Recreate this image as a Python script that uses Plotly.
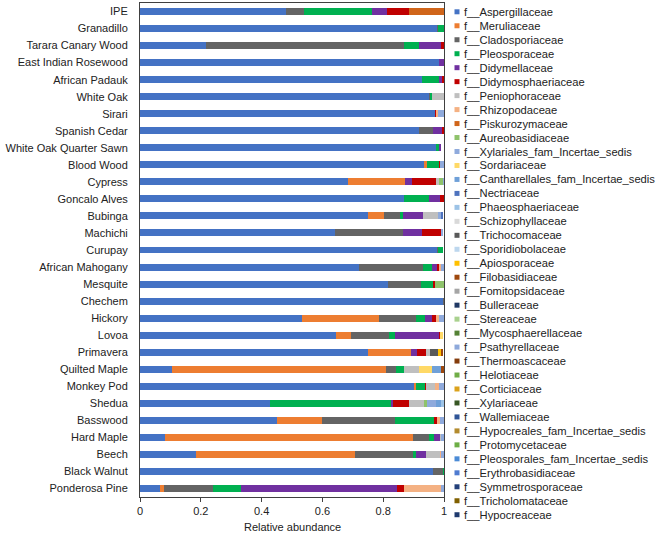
import plotly.graph_objects as go

woods = ["IPE", "Granadillo", "Tarara Canary Wood", "East Indian Rosewood", "African Padauk",
         "White Oak", "Sirari", "Spanish Cedar", "White Oak Quarter Sawn", "Blood Wood",
         "Cypress", "Goncalo Alves", "Bubinga", "Machichi", "Curupay", "African Mahogany",
         "Mesquite", "Chechem", "Hickory", "Lovoa", "Primavera", "Quilted Maple",
         "Monkey Pod", "Shedua", "Basswood", "Hard Maple", "Beech", "Black Walnut",
         "Ponderosa Pine"]

families = ["f__Aspergillaceae", "f__Meruliaceae", "f__Cladosporiaceae", "f__Pleosporaceae",
            "f__Didymellaceae", "f__Didymosphaeriaceae", "f__Peniophoraceae", "f__Rhizopodaceae",
            "f__Piskurozymaceae", "f__Aureobasidiaceae", "f__Xylariales_fam_Incertae_sedis",
            "f__Sordariaceae", "f__Cantharellales_fam_Incertae_sedis", "f__Nectriaceae",
            "f__Phaeosphaeriaceae", "f__Schizophyllaceae", "f__Trichocomaceae",
            "f__Sporidiobolaceae", "f__Apiosporaceae", "f__Filobasidiaceae", "f__Fomitopsidaceae",
            "f__Bulleraceae", "f__Stereaceae", "f__Mycosphaerellaceae", "f__Psathyrellaceae",
            "f__Thermoascaceae", "f__Helotiaceae", "f__Corticiaceae", "f__Xylariaceae",
            "f__Wallemiaceae", "f__Hypocreales_fam_Incertae_sedis", "f__Protomycetaceae",
            "f__Pleosporales_fam_Incertae_sedis", "f__Erythrobasidiaceae",
            "f__Symmetrosporaceae", "f__Tricholomataceae", "f__Hypocreaceae"]

colors = ["#4472C4", "#ED7D31", "#646464", "#00B050", "#7030A0", "#C00000", "#BFBFBF",
          "#F4B183", "#D0651A", "#8FC36B", "#8FAADC", "#FFD966", "#6FA0D8", "#4E73BE",
          "#9DC3E6", "#D9D9D9", "#595959", "#BDD7EE", "#FFC000", "#9E480E", "#A5A5A5",
          "#203864", "#A9D18E", "#548235", "#8EA9DB", "#843C0C", "#70AD47", "#DBA21C",
          "#375623", "#2F5597", "#B38B2E", "#6DAE45", "#4B8BD6", "#4F7BD0", "#24407A",
          "#806000", "#1F3A6E"]

# values per family, in the order of `woods` (top to bottom)
aspergillaceae = [0.479, 0.978, 0.217, 0.982, 0.927, 0.951, 0.973, 0.919, 0.974, 0.935,
                  0.685, 0.869, 0.749, 0.640, 0.977, 0.720, 0.815, 0.997, 0.532, 0.645,
                  0.749, 0.104, 0.902, 0.428, 0.450, 0.082, 0.183, 0.964, 0.066]
meruliaceae = [0, 0, 0, 0, 0, 0, 0, 0, 0, 0.009, 0.187, 0, 0.053, 0, 0, 0, 0, 0, 0.254,
               0.049, 0.142, 0.705, 0.006, 0, 0.148, 0.817, 0.524, 0, 0.013]
cladosporiaceae = [0.060, 0.003, 0.652, 0, 0, 0.003, 0, 0.045, 0, 0, 0, 0, 0.053, 0.224,
                   0.004, 0.212, 0.108, 0.003, 0.122, 0.126, 0, 0.033, 0, 0, 0.241, 0.050,
                   0.190, 0.034, 0.160]
pleosporaceae = [0.223, 0.019, 0.050, 0, 0.057, 0.005, 0, 0, 0.011, 0.040, 0, 0.080, 0.011,
                 0, 0.017, 0.028, 0.044, 0, 0.031, 0.020, 0, 0.028, 0.030, 0.400, 0.129,
                 0.018, 0.010, 0.002, 0.092]
didymellaceae = [0.049, 0, 0.070, 0.018, 0.008, 0, 0, 0.030, 0.005, 0, 0.023, 0.037, 0.064,
                 0.064, 0, 0.016, 0, 0, 0.021, 0.145, 0.019, 0, 0, 0.004, 0, 0.020, 0.034,
                 0, 0.513]
didymosphaeriaceae = [0.074, 0, 0.011, 0, 0.008, 0, 0.003, 0.003, 0, 0.004, 0.079, 0.014, 0,
                      0.061, 0, 0.009, 0.004, 0, 0.014, 0.003, 0.031, 0, 0.003, 0.054, 0.008,
                      0, 0, 0, 0.024]
peniophoraceae = [0, 0, 0, 0, 0, 0.041, 0, 0, 0, 0, 0.008, 0, 0.049, 0, 0, 0, 0, 0, 0, 0,
                  0.013, 0.047, 0.030, 0.048, 0, 0.004, 0.046, 0, 0]
rhizopodaceae = [0, 0, 0, 0, 0, 0, 0.003, 0, 0, 0, 0, 0, 0, 0, 0, 0.006, 0, 0, 0.010, 0, 0,
                 0, 0.012, 0, 0.011, 0, 0.003, 0, 0.122]
piskurozymaceae = [0.115] + [0] * 28
aureobasidiaceae = [0, 0, 0, 0, 0, 0, 0, 0, 0, 0, 0.015, 0, 0, 0, 0, 0, 0.029, 0, 0, 0, 0, 0,
                    0, 0.009, 0, 0, 0, 0, 0]
xylariales = [0, 0, 0, 0, 0, 0, 0.021, 0, 0, 0.011, 0.003, 0, 0.011, 0.009, 0, 0.008, 0, 0,
              0.015, 0, 0, 0, 0.017, 0.030, 0.013, 0.008, 0.010, 0, 0.010]
sordariaceae = [0] * 19 + [0.009, 0, 0.045] + [0] * 7
cantharellales = [0] * 21 + [0.027, 0, 0.018] + [0] * 5
nectriaceae = [0] * 12 + [0.007] + [0] * 16
phaeosphaeriaceae = [0] * 23 + [0.009] + [0] * 5
trichocomaceae = [0] * 20 + [0.026] + [0] * 8
apiosporaceae = [0] * 20 + [0.010] + [0] * 8
filobasidiaceae = [0] * 20 + [0.008, 0.010] + [0] * 7

values = {
    "f__Aspergillaceae": aspergillaceae,
    "f__Meruliaceae": meruliaceae,
    "f__Cladosporiaceae": cladosporiaceae,
    "f__Pleosporaceae": pleosporaceae,
    "f__Didymellaceae": didymellaceae,
    "f__Didymosphaeriaceae": didymosphaeriaceae,
    "f__Peniophoraceae": peniophoraceae,
    "f__Rhizopodaceae": rhizopodaceae,
    "f__Piskurozymaceae": piskurozymaceae,
    "f__Aureobasidiaceae": aureobasidiaceae,
    "f__Xylariales_fam_Incertae_sedis": xylariales,
    "f__Sordariaceae": sordariaceae,
    "f__Cantharellales_fam_Incertae_sedis": cantharellales,
    "f__Nectriaceae": nectriaceae,
    "f__Phaeosphaeriaceae": phaeosphaeriaceae,
    "f__Trichocomaceae": trichocomaceae,
    "f__Apiosporaceae": apiosporaceae,
    "f__Filobasidiaceae": filobasidiaceae,
}

x_ticks = [0, 0.2, 0.4, 0.6, 0.8, 1]
x_ticktext = ["0", "0.2", "0.4", "0.6", "0.8", "1"]
x_title = "Relative abundance"

FONT = "Liberation Sans, Arial, sans-serif"
W, H = 660, 533
L, R, T, B = 140, 216, 3, 36
plot_w = W - L - R
plot_h = H - T - B

fig = go.Figure()
for fam, col in zip(families, colors):
    vals = values.get(fam)
    if vals is None:
        continue
    fig.add_trace(go.Bar(
        x=vals, y=woods, orientation="h", name=fam,
        marker=dict(color=col, line=dict(width=0)),
        showlegend=False,
    ))

# manual legend (native legend rows are too tall for 37 entries)
shapes = []
annotations = []
for i, (fam, col) in enumerate(zip(families, colors)):
    ypx = 11.8 + 13.97 * i
    yc = (H - B - ypx) / plot_h
    x0 = (454.5 - L) / plot_w
    x1 = (459.5 - L) / plot_w
    hh = 2.5 / plot_h
    shapes.append(dict(type="rect", xref="paper", yref="paper", x0=x0, x1=x1,
                       y0=yc - hh, y1=yc + hh, fillcolor=col, line=dict(width=0)))
    annotations.append(dict(xref="paper", yref="paper", x=(461.5 - L) / plot_w, y=yc,
                            xanchor="left", yanchor="middle", text=fam, showarrow=False,
                            font=dict(family=FONT, size=11.2, color="#222222")))

# x-axis title placed as an annotation for precise positioning
annotations.append(dict(xref="paper", yref="paper", x=0.5, y=(H - B - 526.5) / plot_h,
                        xanchor="center", yanchor="middle", text=x_title, showarrow=False,
                        font=dict(family=FONT, size=11, color="#222222")))

fig.update_layout(
    width=W, height=H,
    margin=dict(l=L, r=R, t=T, b=B, autoexpand=False),
    barmode="stack", bargap=0.59,
    plot_bgcolor="white", paper_bgcolor="white",
    font=dict(family=FONT, size=11, color="#222222"),
    shapes=shapes, annotations=annotations,
    xaxis=dict(range=[0, 1], tickvals=x_ticks, ticktext=x_ticktext, showgrid=False,
               zeroline=False, showline=True, linecolor="#404040", linewidth=1, mirror=True,
               ticks="outside", ticklen=4, tickcolor="#404040", automargin=False,
               tickfont=dict(family=FONT, size=11, color="#222222")),
    yaxis=dict(autorange="reversed", showgrid=False, zeroline=False, showline=True,
               linecolor="#404040", linewidth=1, mirror=True, ticks="",
               ticklabelstandoff=9, automargin=False,
               tickfont=dict(family=FONT, size=11, color="#222222")),
)

fig.write_html("out.html", config={"displayModeBar": False},
               post_script="document.body.style.margin='0';")
